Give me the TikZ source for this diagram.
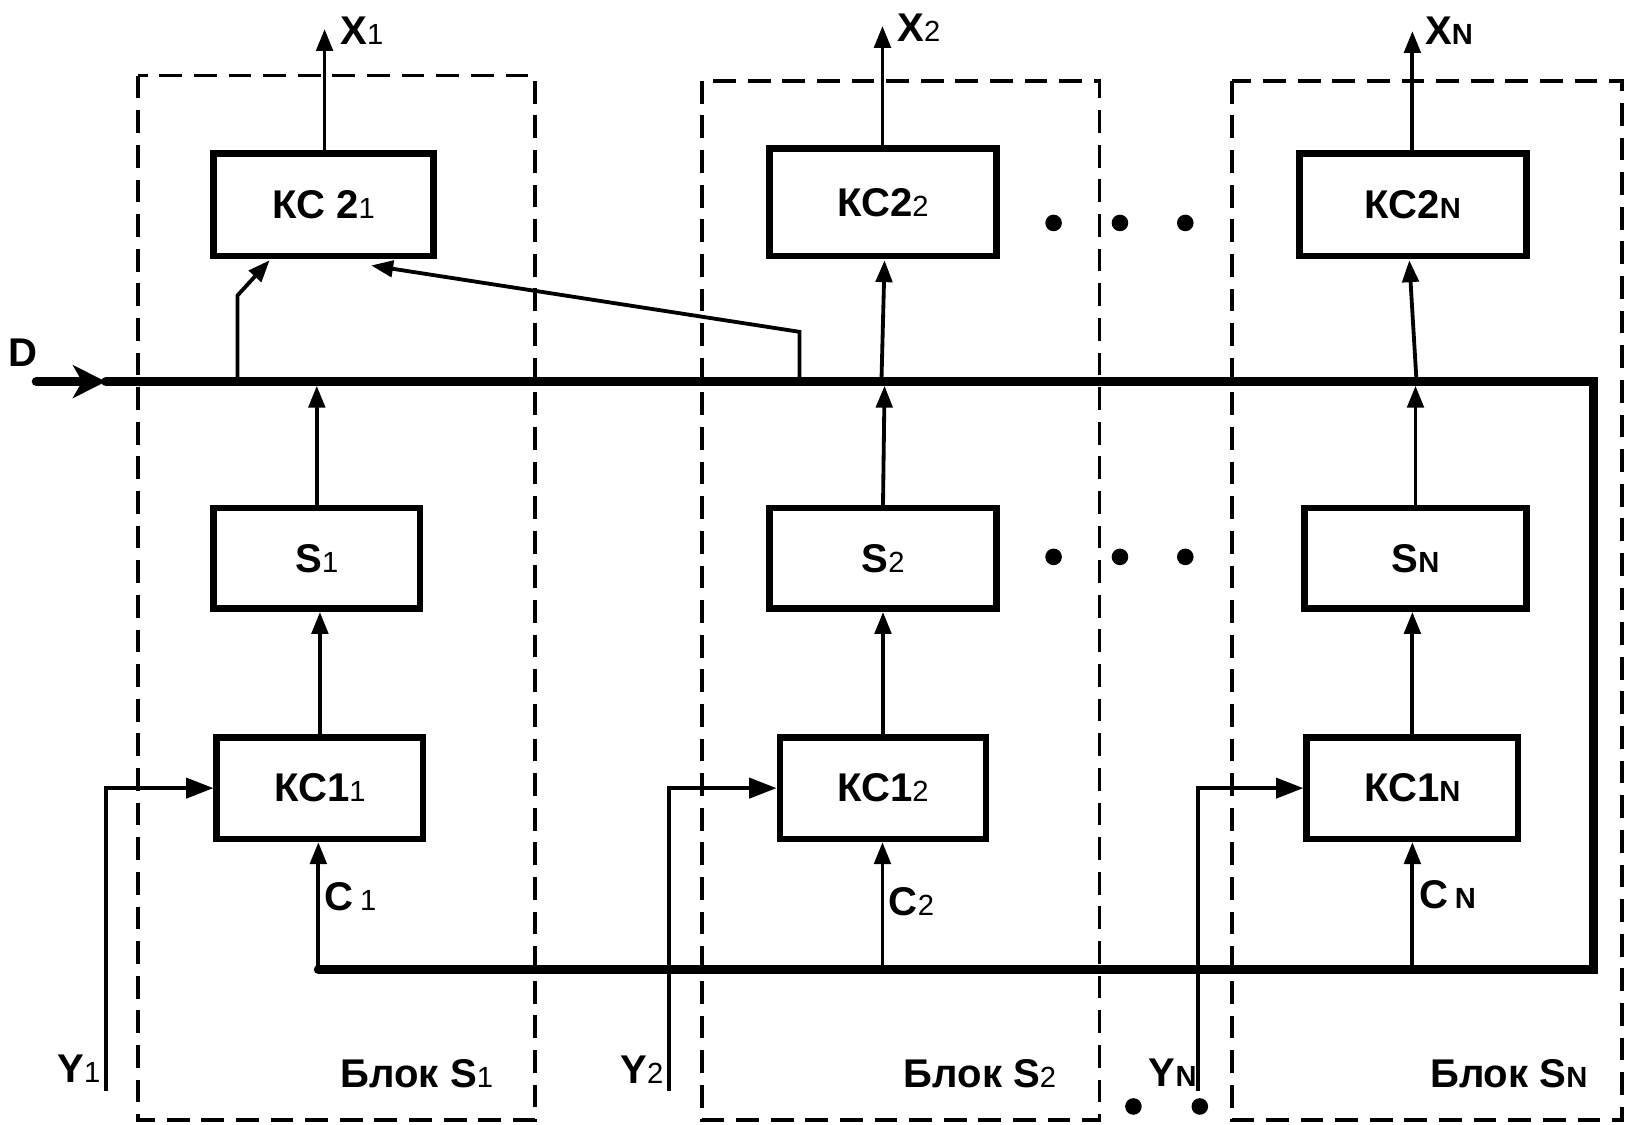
\documentclass[tikz,border=0pt]{standalone}
\usepackage{fontspec}
\setmainfont{Liberation Sans}
\usetikzlibrary{arrows.meta}
\newcommand{\mainsz}{\fontsize{22}{25}\selectfont\bfseries}
\newcommand{\subsz}{\fontsize{16}{18}\selectfont\mdseries}
\newcommand{\lbl}[2]{{\mainsz #1}{\subsz #2}}
\newcommand{\lblN}[2]{{\mainsz #1}{\subsz\bfseries #2}}
\begin{document}
\begin{tikzpicture}[x=0.02cm,y=-0.02cm,
  blk/.style={draw, line width=3.6pt, inner sep=0pt, minimum height=1.98cm},
  thinln/.style={line width=2.1pt},
  busln/.style={line width=5pt, line cap=round, line join=miter},
  frame/.style={line width=1.8pt, dash pattern=on 12.5pt off 6.5pt},
  arr/.style={thinln, -{Triangle[length=12pt,width=9pt]}},
  yarr/.style={thinln, -{Triangle[length=15pt,width=11pt]}},
  darr/.style={busln, -{Stealth[length=18pt,width=18pt,inset=5pt]}},
  dotn/.style={circle, fill, inner sep=0pt, minimum size=0.32cm},
  txt/.style={inner sep=0pt}
]
\useasboundingbox (0,0) rectangle (1568,1084);

% dashed frames
\draw[frame] (133,73) rectangle (516,1080);
\draw[frame] (677,78) rectangle (1060,1080);
\draw[frame] (1188,78) rectangle (1564,1080);

% blocks
\node[blk, minimum width=4.24cm, minimum height=1.98cm] (k21) at (312,197.5) {\lbl{КС 2}{1}};
\node[blk, minimum width=4.38cm, minimum height=2.08cm] (k22) at (851.5,195) {\lbl{КС2}{2}};
\node[blk, minimum width=4.38cm, minimum height=1.98cm] (k2n) at (1362.5,197.5) {\lblN{КС2}{N}};
\node[blk, minimum width=3.98cm, minimum height=1.94cm] (s1) at (305.5,538.5) {\lbl{S}{1}};
\node[blk, minimum width=4.38cm, minimum height=1.94cm] (s2) at (851.5,538.5) {\lbl{S}{2}};
\node[blk, minimum width=4.28cm, minimum height=1.94cm] (sn) at (1365,538.5) {\lblN{S}{N}};
\node[blk, minimum width=3.98cm, minimum height=1.96cm] (k11) at (308.5,760) {\lbl{КС1}{1}};
\node[blk, minimum width=3.98cm, minimum height=1.96cm] (k12) at (851.5,760) {\lbl{КС1}{2}};
\node[blk, minimum width=4.08cm, minimum height=1.96cm] (k1n) at (1362,760) {\lblN{КС1}{N}};

% coordinates
\coordinate (dstart) at (35,368);
\coordinate (dtip) at (102,368);
\coordinate (bRt) at (1537,368);
\coordinate (bRb) at (1537,935);
\coordinate (bL) at (307,935);
\coordinate (x1) at (313,28);
\coordinate (x2) at (851,25);
\coordinate (xn) at (1362,30);

% bus
\draw[busln] (dtip) -- (bRt) -- (bRb) -- (bL);
\draw[darr] (dstart) -- (dtip);

% outputs
\draw[arr] (k21.north -| x1) -- (x1);
\draw[arr] (k22.north -| x2) -- (x2);
\draw[arr] (k2n.north -| xn) -- (xn);

% inputs of KC2_1
\coordinate (a1) at (229,368);
\coordinate (a2) at (229,285);
\coordinate (a3) at (260,251);
\draw[arr] (a1) -- (a2) -- (a3);
\coordinate (b1) at (771,368);
\coordinate (b2) at (771,320);
\coordinate (b3) at (358,256);
\draw[arr] (b1) -- (b2) -- (b3);
% bus -> KC2_2, KC2_N
\coordinate (c2) at (850,368);
\draw[arr] (c2) -- (853,251);
\coordinate (cn) at (1366,368);
\draw[arr] (cn) -- (1359,251);

% S -> bus
\draw[arr] (s1.north) -- (s1.north |- 0,372);
\draw[arr] (s2.north) -- (853,372);
\draw[arr] (sn.north) -- (sn.north |- 0,372);

% KC1 -> S
\draw[arr] (k11.north) -- (s1.south -| k11.north);
\draw[arr] (k12.north) -- (s2.south -| k12.north);
\draw[arr] (k1n.north) -- (sn.south -| k1n.north);

% C inputs
\draw[arr] (bL) -- (k11.south -| bL);
\coordinate (cc2) at (851,935);
\draw[arr] (cc2) -- (k12.south -| cc2);
\coordinate (ccn) at (1362,935);
\draw[arr] (ccn) -- (k1n.south -| ccn);

% Y inputs
\coordinate (y1b) at (102,1052);
\coordinate (y2b) at (645,1052);
\coordinate (ynb) at (1155,1052);
\draw[yarr] (y1b) -- (y1b |- k11.west) -- (k11.west);
\draw[yarr] (y2b) -- (y2b |- k12.west) -- (k12.west);
\draw[yarr] (ynb) -- (ynb |- k1n.west) -- (k1n.west);

% labels
\node[txt, anchor=west] (lx1) at (328,30) {\lbl{X}{1}};
\node[txt, anchor=west] (lx2) at (865,27) {\lbl{X}{2}};
\node[txt, anchor=west] (lxn) at (1374,30) {\lblN{X}{N}};
\node[txt] (ld) at (22,340) {\lbl{D}{}};
\node[txt] (ly1) at (76,1031) {\lbl{Y}{1}};
\node[txt] (ly2) at (619,1032) {\lbl{Y}{2}};
\node[txt] (lyn) at (1131,1034) {\lblN{Y}{N}};
\node[txt] (lc1) at (338,865) {\lbl{C\,}{1}};
\node[txt] (lc2) at (879,870) {\lbl{C}{2}};
\node[txt] (lcn) at (1396,863) {\lblN{C\,}{N}};
\node[txt] (lb1) at (402,1035) {\lbl{Блок S}{1}};
\node[txt] (lb2) at (945,1035) {\lbl{Блок S}{2}};
\node[txt] (lbn) at (1455,1035) {\lblN{Блок S}{N}};

% dots
\foreach \px/\nm in {1016/a,1080/b,1143/c} {
  \node[dotn] (d1\nm) at (\px,215) {};
  \node[dotn] (d2\nm) at (\px,537) {};
}
\node[dotn] (d3a) at (1093,1067) {};
\node[dotn] (d3b) at (1157,1067) {};
\end{tikzpicture}
\end{document}
